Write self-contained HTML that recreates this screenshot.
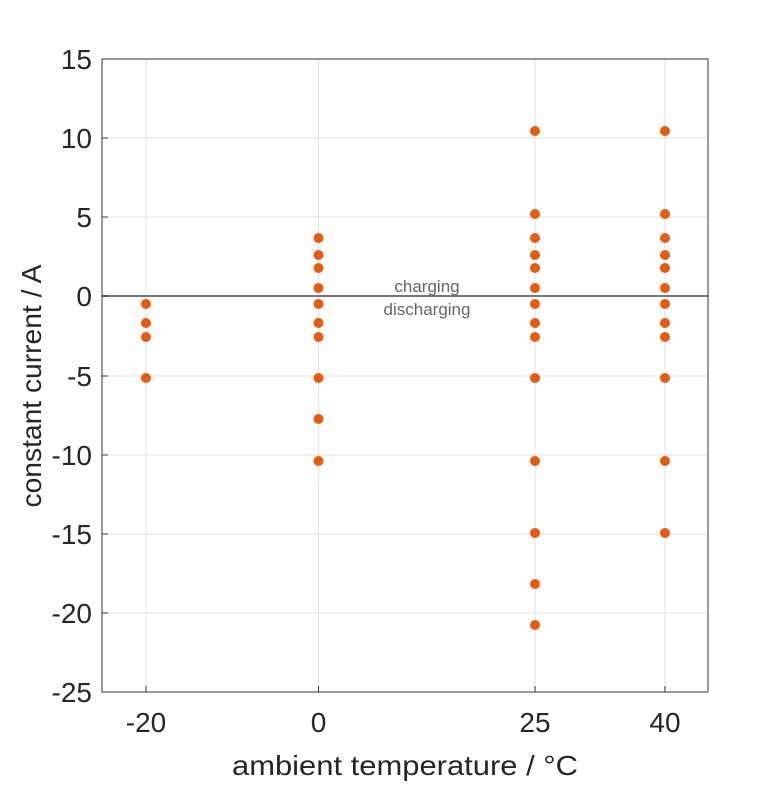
<!DOCTYPE html>
<html><head><style>body{margin:0;background:#fff}</style></head><body>
<svg width="781" height="781" xmlns="http://www.w3.org/2000/svg" font-family="Liberation Sans, sans-serif">
<rect width="781" height="781" fill="#fff"/>
<g stroke="#e0e0e0" stroke-width="1">
<line x1="146" y1="59" x2="146" y2="692"/><line x1="318.5" y1="59" x2="318.5" y2="692"/><line x1="535" y1="59" x2="535" y2="692"/><line x1="665" y1="59" x2="665" y2="692"/>
<line x1="102" y1="138" x2="708" y2="138"/><line x1="102" y1="217" x2="708" y2="217"/><line x1="102" y1="376" x2="708" y2="376"/><line x1="102" y1="455" x2="708" y2="455"/><line x1="102" y1="534" x2="708" y2="534"/><line x1="102" y1="613" x2="708" y2="613"/>
</g>
<line x1="102" y1="296" x2="708" y2="296" stroke="#777" stroke-width="2"/>
<rect x="102" y="59" width="606" height="633" fill="none" stroke="#333" stroke-width="1"/>
<g stroke="#333"><line x1="146" y1="692" x2="146" y2="686"/><line x1="318.5" y1="692" x2="318.5" y2="686"/><line x1="535" y1="692" x2="535" y2="686"/><line x1="665" y1="692" x2="665" y2="686"/>
<line x1="102" y1="59" x2="108" y2="59"/><line x1="102" y1="138" x2="108" y2="138"/><line x1="102" y1="217" x2="108" y2="217"/><line x1="102" y1="296" x2="108" y2="296"/><line x1="102" y1="376" x2="108" y2="376"/><line x1="102" y1="455" x2="108" y2="455"/><line x1="102" y1="534" x2="108" y2="534"/><line x1="102" y1="613" x2="108" y2="613"/><line x1="102" y1="692" x2="108" y2="692"/></g>
<g font-size="28" fill="#262626" text-anchor="end">
<text x="92" y="69">15</text><text x="92" y="148">10</text><text x="92" y="227">5</text><text x="92" y="306">0</text><text x="92" y="386">-5</text><text x="92" y="465">-10</text><text x="92" y="544">-15</text><text x="92" y="623">-20</text><text x="92" y="702">-25</text>
</g>
<g font-size="28" fill="#262626" text-anchor="middle">
<text x="146" y="732">-20</text><text x="318.5" y="732">0</text><text x="535" y="732">25</text><text x="665" y="732">40</text>
<text x="405" y="775" textLength="346" lengthAdjust="spacingAndGlyphs">ambient temperature / °C</text>
<text transform="translate(41,386) rotate(-90)" textLength="243" lengthAdjust="spacingAndGlyphs">constant current / A</text>
</g>
<g font-size="17" fill="#666" text-anchor="middle"><text x="427" y="292">charging</text><text x="427" y="315">discharging</text></g>
<g fill="#e85a0c">
<circle cx="146" cy="304" r="5"/><circle cx="146" cy="323" r="5"/><circle cx="146" cy="337" r="5"/><circle cx="146" cy="378" r="5"/>
<circle cx="318.5" cy="238" r="5"/><circle cx="318.5" cy="255" r="5"/><circle cx="318.5" cy="268" r="5"/><circle cx="318.5" cy="288" r="5"/><circle cx="318.5" cy="304" r="5"/><circle cx="318.5" cy="323" r="5"/><circle cx="318.5" cy="337" r="5"/><circle cx="318.5" cy="378" r="5"/><circle cx="318.5" cy="419" r="5"/><circle cx="318.5" cy="461" r="5"/>
<circle cx="535" cy="131" r="5"/><circle cx="535" cy="214" r="5"/><circle cx="535" cy="238" r="5"/><circle cx="535" cy="255" r="5"/><circle cx="535" cy="268" r="5"/><circle cx="535" cy="288" r="5"/><circle cx="535" cy="304" r="5"/><circle cx="535" cy="323" r="5"/><circle cx="535" cy="337" r="5"/><circle cx="535" cy="378" r="5"/><circle cx="535" cy="461" r="5"/><circle cx="535" cy="533" r="5"/><circle cx="535" cy="584" r="5"/><circle cx="535" cy="625" r="5"/>
<circle cx="665" cy="131" r="5"/><circle cx="665" cy="214" r="5"/><circle cx="665" cy="238" r="5"/><circle cx="665" cy="255" r="5"/><circle cx="665" cy="268" r="5"/><circle cx="665" cy="288" r="5"/><circle cx="665" cy="304" r="5"/><circle cx="665" cy="323" r="5"/><circle cx="665" cy="337" r="5"/><circle cx="665" cy="378" r="5"/><circle cx="665" cy="461" r="5"/><circle cx="665" cy="533" r="5"/>
</g>
</svg>
</body></html>
